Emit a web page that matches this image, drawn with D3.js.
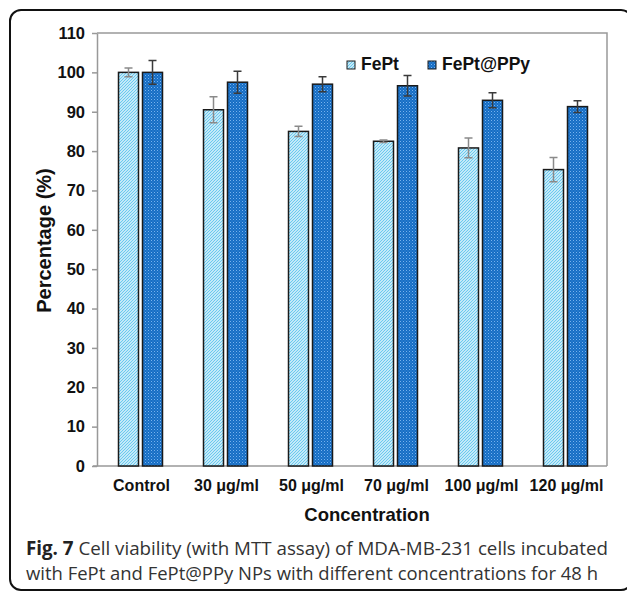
<!DOCTYPE html>
<html>
<head>
<meta charset="utf-8">
<script src="https://cdn.jsdelivr.net/npm/d3@7/dist/d3.min.js"></script>
<style>
  html, body { margin: 0; padding: 0; background: #fff; }
  svg { display: block; }
</style>
</head>
<body>
<svg id="chart" width="627" height="592"></svg>
<script>
// ---- data ----
const categories = ["Control", "30 μg/ml", "50 μg/ml", "70 μg/ml", "100 μg/ml", "120 μg/ml"];
const seriesNames = ["FePt", "FePt@PPy"];
const fePtValues = [100, 90.5, 85.0, 82.5, 80.8, 75.3];
const fePtErrors = [1.1, 3.3, 1.3, 0.3, 2.5, 3.1];
const ppyValues = [100, 97.5, 97.0, 96.6, 92.9, 91.3];
const ppyErrors = [3.0, 2.8, 1.9, 2.6, 1.9, 1.5];
const yTicks = [0, 10, 20, 30, 40, 50, 60, 70, 80, 90, 100, 110];
const captionBold = "Fig. 7";
const captionLine1 = " Cell viability (with MTT assay) of MDA-MB-231 cells incubated";
const captionLine2 = "with FePt and FePt@PPy NPs with different concentrations for 48 h";

const svg = d3.select("#chart");
const chartFont = "'Liberation Sans', Arial, sans-serif";

// ---- patterns ----
const defs = svg.append("defs");
const p1 = defs.append("pattern").attr("id", "hatch").attr("patternUnits", "userSpaceOnUse")
  .attr("width", 3).attr("height", 3);
p1.append("rect").attr("width", 3).attr("height", 3).attr("fill", "#eef9fe");
p1.append("path").attr("d", "M-1,1 l2,-2 M0,3 l3,-3 M2,4 l2,-2")
  .attr("stroke", "#66c8ee").attr("stroke-width", 1.2);

const p2 = defs.append("pattern").attr("id", "dots").attr("patternUnits", "userSpaceOnUse")
  .attr("width", 3).attr("height", 3);
p2.append("rect").attr("width", 3).attr("height", 3).attr("fill", "#166dc4");
p2.append("rect").attr("x", 0).attr("y", 0).attr("width", 1).attr("height", 1).attr("fill", "#78b3ee");
p2.append("rect").attr("x", 1.5).attr("y", 1.5).attr("width", 1).attr("height", 1).attr("fill", "#4a93de");

const fills = { "FePt": "url(#hatch)", "FePt@PPy": "url(#dots)" };
const errColors = { "FePt": "#8a8a8a", "FePt@PPy": "#3a3a3a" };

// ---- frame ----
svg.append("rect").attr("x", 10).attr("y", 10).attr("width", 622).attr("height", 580)
  .attr("rx", 11).attr("fill", "none").attr("stroke", "#111").attr("stroke-width", 2);

// ---- scales ----
const plot = { left: 97, right: 607, top: 33, bottom: 466 };
const x0 = d3.scaleBand().domain(categories).range([plot.left, plot.right]);
const x1 = d3.scaleBand().domain(seriesNames)
  .range([x0.bandwidth() / 2 - 21, x0.bandwidth() / 2 + 23]).paddingInner(1 / 6);
const y = d3.scaleLinear().domain([0, 110]).range([plot.bottom, plot.top]);

// plot border (top/right)
svg.append("path")
  .attr("d", `M${plot.left},${plot.top}H${plot.right}V${plot.bottom}`)
  .attr("fill", "none").attr("stroke", "#999").attr("stroke-width", 1.5);

// y axis
const yAxis = svg.append("g").attr("transform", `translate(${plot.left},0)`)
  .call(d3.axisLeft(y).tickValues(yTicks).tickSize(5).tickPadding(7).tickSizeOuter(0));
yAxis.select(".domain").attr("stroke", "#999").attr("stroke-width", 1.5);
yAxis.selectAll(".tick line").attr("stroke", "#999").attr("stroke-width", 1.5);
yAxis.selectAll(".tick text").attr("font-family", chartFont).attr("font-weight", "bold")
  .attr("font-size", 16.5).attr("fill", "#111");

// x axis
const xAxis = svg.append("g").attr("transform", `translate(0,${plot.bottom})`)
  .call(d3.axisBottom(x0).tickSize(0).tickPadding(14).tickSizeOuter(0));
xAxis.select(".domain").attr("stroke", "#999").attr("stroke-width", 1.5)
  .attr("d", `M${plot.left - 4},0H${plot.right}`);
xAxis.selectAll(".tick text").attr("font-family", chartFont).attr("font-weight", "bold")
  .attr("font-size", 16).attr("fill", "#111").attr("dx", 2);

// ---- bars ----
const rows = categories.map((c, i) => ({
  cat: c,
  vals: [
    { s: "FePt", v: fePtValues[i], e: fePtErrors[i] },
    { s: "FePt@PPy", v: ppyValues[i], e: ppyErrors[i] }
  ]
}));

const groups = svg.append("g").selectAll("g").data(rows).join("g")
  .attr("transform", d => `translate(${x0(d.cat)},0)`);

groups.selectAll("rect").data(d => d.vals).join("rect")
  .attr("x", d => x1(d.s))
  .attr("width", x1.bandwidth())
  .attr("y", d => y(d.v))
  .attr("height", d => y(0) - y(d.v))
  .attr("fill", d => fills[d.s])
  .attr("stroke", "#1a1a1a").attr("stroke-width", 1.5);

// error bars
const eb = groups.selectAll("g.err").data(d => d.vals).join("g").attr("class", "err");
eb.append("path")
  .attr("d", d => {
    const cx = x1(d.s) + x1.bandwidth() / 2;
    const t = y(d.v + d.e), b = y(d.v - d.e);
    return `M${cx - 4},${t}H${cx + 4}M${cx},${t}V${b}M${cx - 4},${b}H${cx + 4}`;
  })
  .attr("fill", "none").attr("stroke", d => errColors[d.s]).attr("stroke-width", 1.5);

// ---- axis titles ----
svg.append("text").attr("transform", `translate(51,${(plot.top + plot.bottom) / 2 - 9}) rotate(-90)`)
  .attr("text-anchor", "middle").attr("font-family", chartFont).attr("font-weight", "bold")
  .attr("font-size", 20).attr("fill", "#111").text("Percentage (%)");

svg.append("text").attr("x", 367).attr("y", 521).attr("text-anchor", "middle")
  .attr("font-family", chartFont).attr("font-weight", "bold")
  .attr("font-size", 18.5).attr("fill", "#111").text("Concentration");

// ---- legend ----
const legendItems = [
  { s: "FePt", x: 347 },
  { s: "FePt@PPy", x: 428 }
];
const lg = svg.append("g").selectAll("g").data(legendItems).join("g")
  .attr("transform", d => `translate(${d.x},61)`);
lg.append("rect").attr("width", 8).attr("height", 8)
  .attr("fill", d => fills[d.s]).attr("stroke", "#1a1a1a").attr("stroke-width", 1);
lg.append("text").attr("x", 14).attr("y", 9).attr("font-family", chartFont)
  .attr("font-weight", "bold").attr("font-size", 17.5).attr("fill", "#111").text(d => d.s);

// ---- caption ----
const capFont = "'Open Sans', 'Noto Sans', sans-serif";
const c1 = svg.append("text").attr("x", 26).attr("y", 555).attr("font-family", capFont)
  .attr("font-size", 19).attr("fill", "#333")
  .attr("textLength", 582).attr("lengthAdjust", "spacingAndGlyphs");
c1.append("tspan").attr("font-weight", "bold").attr("fill", "#222").text(captionBold);
c1.append("tspan").text(captionLine1);
svg.append("text").attr("x", 26).attr("y", 580).attr("font-family", capFont)
  .attr("font-size", 19).attr("fill", "#333")
  .attr("textLength", 572).attr("lengthAdjust", "spacingAndGlyphs").text(captionLine2);
</script>
</body>
</html>
